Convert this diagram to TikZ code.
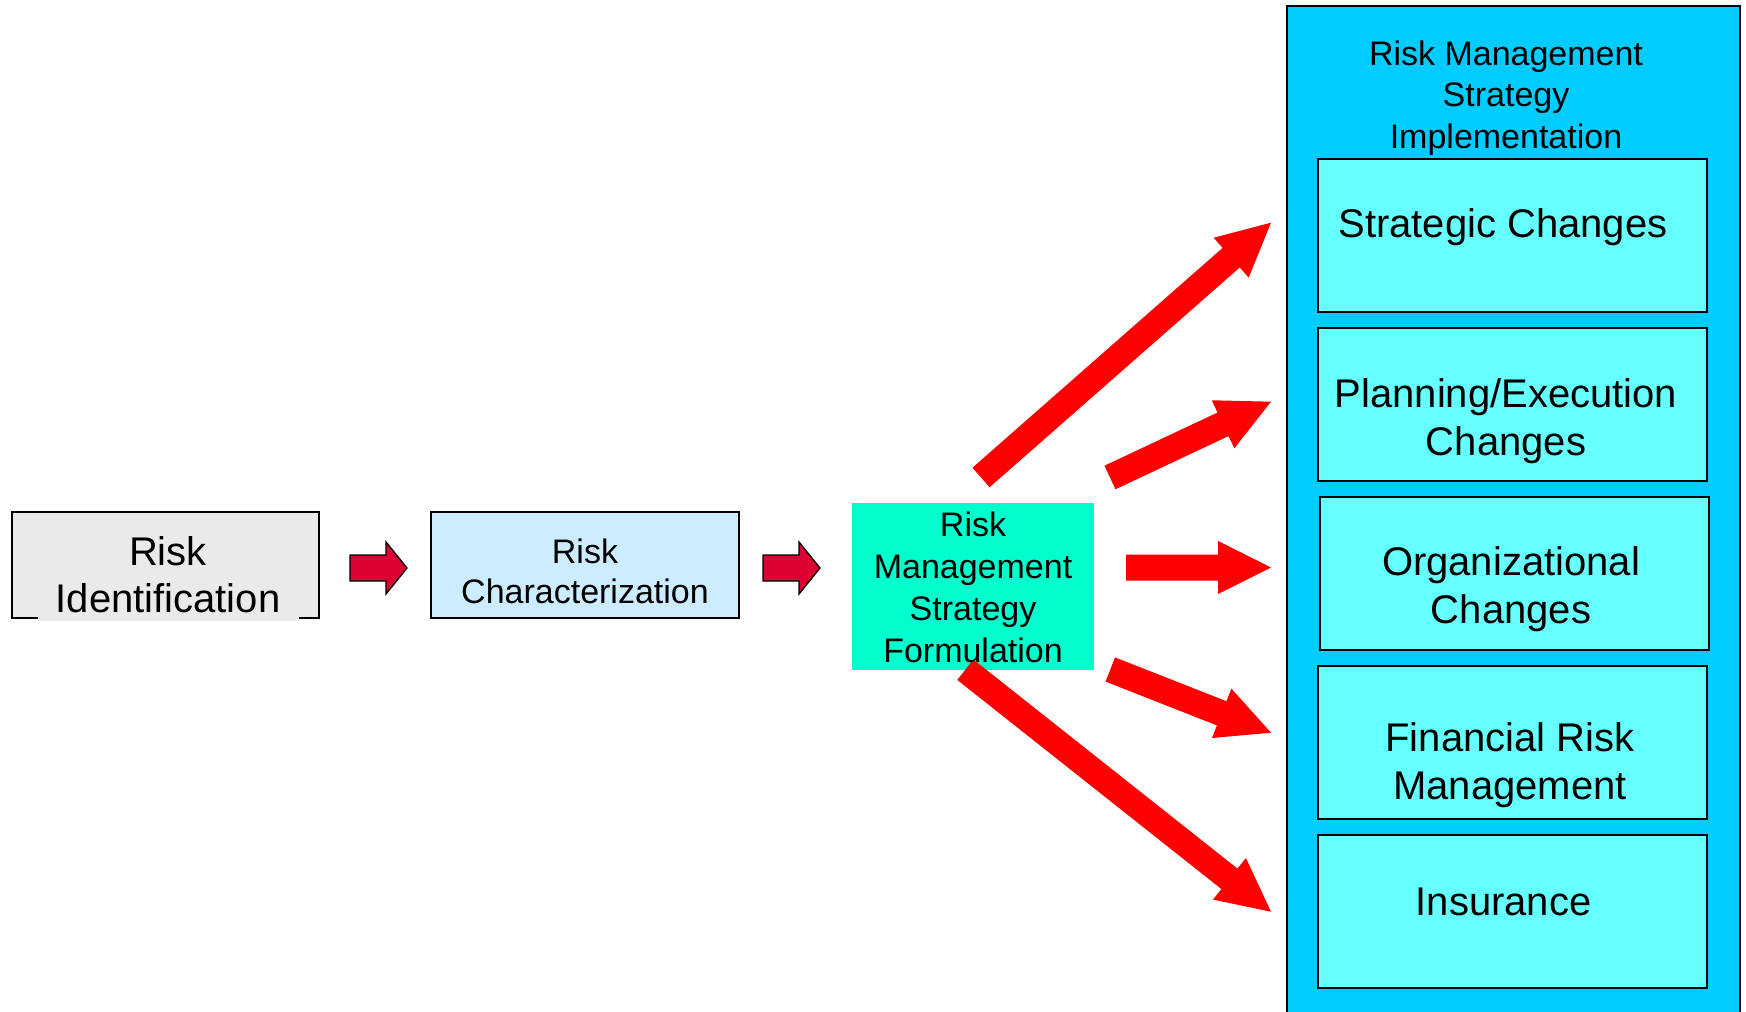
\documentclass[tikz,border=0pt]{standalone}
\usepackage{fontspec}
\setmainfont{Liberation Sans}
\usetikzlibrary{calc}
\definecolor{riGray}{HTML}{EAEAEA}
\definecolor{rcBlue}{HTML}{CCECFF}
\definecolor{rmTeal}{HTML}{00FFCC}
\definecolor{contBlue}{HTML}{00CCFF}
\definecolor{innerCyan}{HTML}{66FFFF}
\definecolor{smallRed}{HTML}{DD0033}
\definecolor{bigRed}{HTML}{FF0000}
\newcommand{\bigarrow}[2]{%
  \path ($(#2)!39.75pt!(#1)$) coordinate (bh);
  \fill[bigRed] ($(#1)!9.75pt!90:(#2)$) -- ($(bh)!9.75pt!-90:(#1)$) -- ($(bh)!19.9pt!-90:(#1)$) -- (#2)
    -- ($(bh)!19.9pt!90:(#1)$) -- ($(bh)!9.75pt!90:(#1)$) -- ($(#1)!9.75pt!-90:(#2)$) -- cycle;}
\tikzset{
  boxshape/.style={rectangle, draw=black, line width=1.5pt, inner sep=0pt, outer sep=0pt},
  innerbox/.style={boxshape, fill=innerCyan, minimum width=291.75pt, minimum height=114.75pt},
  bigtxt/.style={font=\fontsize{30}{36}\selectfont, align=center, anchor=base, inner sep=0pt},
  medtxt/.style={font=\fontsize{25.5}{31}\selectfont, align=center, anchor=base, inner sep=0pt},
  smallarr/.style={fill=smallRed, draw=black, line width=1pt, line join=miter},
}
\begin{document}
\begin{tikzpicture}[x=0.75pt, y=-0.75pt]
\useasboundingbox (0,0) rectangle (1746,1011);
\clip (0,0) rectangle (1746,1011);
\fill[white] (0,0) rectangle (1746,1011);

% Risk Identification
\node[boxshape, fill=riGray, minimum width=230.25pt, minimum height=79.5pt] (ri) at (165.5,565) {};
\fill[riGray] (38,609) rectangle (299,620.5);
\node[bigtxt, font=\fontsize{30}{35}\selectfont] (ri-t) at (168,612) {Risk\\Identification};

% Risk Characterization
\node[boxshape, fill=rcBlue, minimum width=231pt, minimum height=79.5pt] (rc) at (585,565) {};
\node[medtxt, font=\fontsize{25.5}{30}\selectfont] (rc-t) at (585,603) {Risk\\Characterization};

% small arrows
\coordinate (s1) at (350,568);
\coordinate (s2) at (763,568);
\draw[smallarr, shift={(s1)}] (0,-13) -- (36,-13) -- (36,-26) -- (57,0) -- (36,26) -- (36,13) -- (0,13) -- cycle;
\draw[smallarr, shift={(s2)}] (0,-13) -- (36,-13) -- (36,-26) -- (57,0) -- (36,26) -- (36,13) -- (0,13) -- cycle;

% Implementation container
\node[boxshape, fill=contBlue, minimum width=339.75pt, minimum height=775.5pt] (impl) at (1513.5,523) {};
\node[medtxt] (impl-t) at (1506,148) {Risk Management\\Strategy\\Implementation};

\node[innerbox] (sc) at (1512.5,235.5) {};
\node[innerbox] (pe) at (1512.5,404.5) {};
\node[innerbox] (oc) at (1514.5,573.5) {};
\node[innerbox] (fr) at (1512.5,742.5) {};
\node[innerbox] (ins) at (1512.5,911.5) {};
\node[bigtxt] (sc-t) at (1503,237) {Strategic Changes};
\node[bigtxt] (pe-t) at (1506,455) {Planning/Execution\\Changes};
\node[bigtxt] (oc-t) at (1511,623) {Organizational\\Changes};
\node[bigtxt] (fr-t) at (1510,799) {Financial Risk\\Management};
\node[bigtxt] (ins-t) at (1503.5,915) {Insurance};

% Formulation
\node[rectangle, fill=rmTeal, inner sep=0pt, minimum width=181.5pt, minimum height=125.25pt] (rm) at (973,586.5) {};

% big arrows
\coordinate (a1) at (981,477.5);   \coordinate (b1) at (1271,222.7);
\coordinate (a2) at (1110,477.5);  \coordinate (b2) at (1271,401.7);
\coordinate (a3) at (1126,567.5);  \coordinate (b3) at (1271,567.5);
\coordinate (a4) at (1110.3,669.5);\coordinate (b4) at (1271,732.7);
\coordinate (a5) at (965.3,669.7); \coordinate (b5) at (1271,911.7);
\bigarrow{a1}{b1}
\bigarrow{a2}{b2}
\bigarrow{a3}{b3}
\bigarrow{a4}{b4}
\bigarrow{a5}{b5}

\node[medtxt, font=\fontsize{25.5}{31.3}\selectfont] (rm-t) at (973,662) {Risk\\Management\\Strategy\\Formulation};
\end{tikzpicture}
\end{document}
